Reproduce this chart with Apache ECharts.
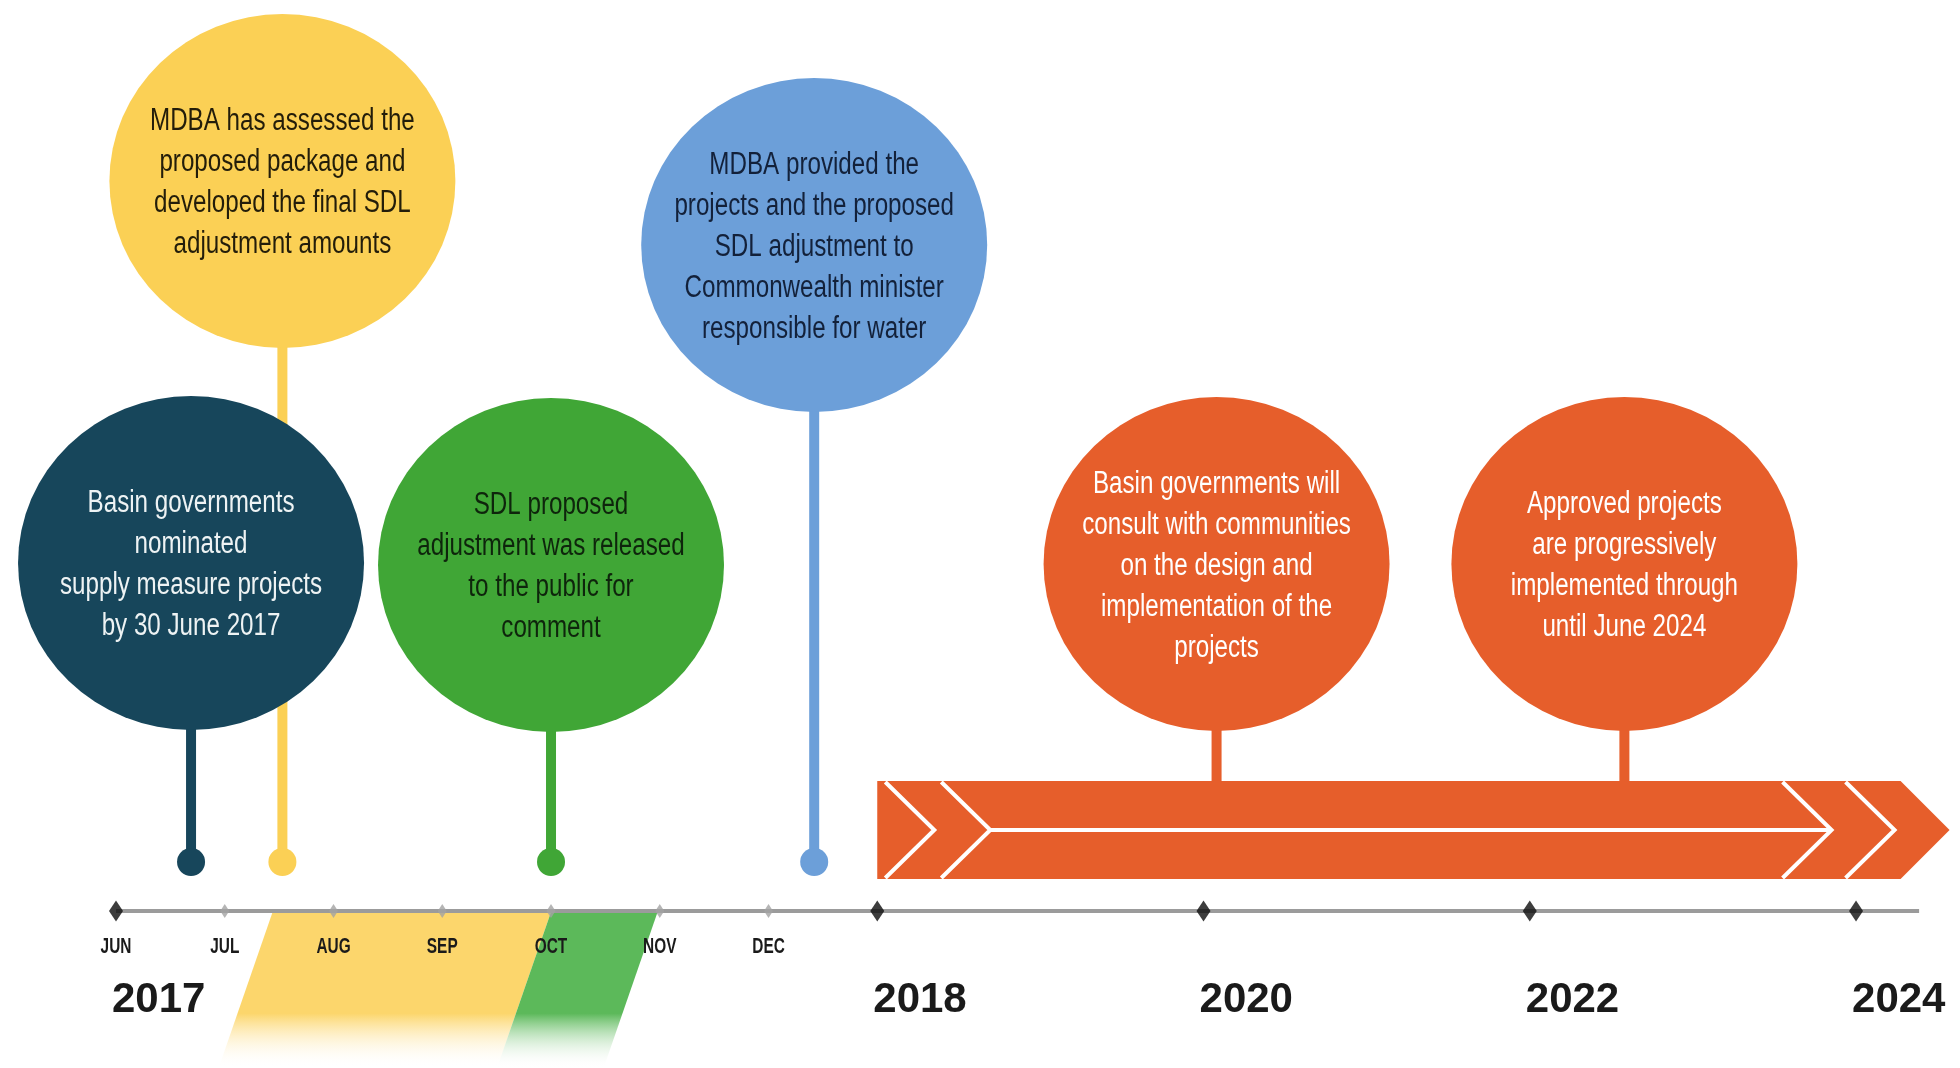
<!DOCTYPE html>
<html><head><meta charset="utf-8">
<script src="https://cdn.jsdelivr.net/npm/echarts@6/dist/echarts.min.js"></script>
<style>html,body{margin:0;padding:0;background:#fff}#c{width:1960px;height:1068px}</style>
</head><body><div id="c"></div>
<script>
// ---- timeline data (x in timeline units: Jun 2017 = 0, one unit per month to Jan 2018 = 7, then 3 units per 2 years) ----
const monthLabels = ['JUN','JUL','AUG','SEP','OCT','NOV','DEC'];
const monthPos = [0,1,2,3,4,5,6];
const yearLabels = ['2017','2018','2020','2022','2024'];
const yearPos = [0,7,10,13,16];
const majorTickPos = [0,7,10,13,16];
const minorTickPos = [1,2,3,4,5,6];
const axisExtent = [0,16.58];
const eventPos = [0.69,1.53,4.0,6.42,10.12,13.87];
const eventText = [
  ['Basin governments','nominated','supply measure projects','by 30 June 2017'],
  ['MDBA has assessed the','proposed package and','developed the final SDL','adjustment amounts'],
  ['SDL proposed','adjustment was released','to the public for','comment'],
  ['MDBA provided the','projects and the proposed','SDL adjustment to','Commonwealth minister','responsible for water'],
  ['Basin governments will','consult with communities','on the design and','implementation of the','projects'],
  ['Approved projects','are progressively','implemented through','until June 2024']
];
const eventColors = ['#17465b','#fbd055','#40a636','#6c9fd9','#e65e2b','#e65e2b'];
const eventTextColors = ['#eef3f4','#231d0a','#0e250c','#13213a','#ffffff','#ffffff'];
const eventHasDot = [true,true,true,true,false,false];
const periodBands = [[1.44,4.0],[4.0,4.98]];
const bandColors = ['#fcd66c','#5cb95a'];
const implementationArrow = [7.0,16.86];

// ---- layout (pixels) ----
const L = {
  axisY: 911, dotY: 862, arrowTop: 781, arrowBot: 879,
  circleY: [563,181,565,245,564,564], rx: 173, ry: 167,
  monthLabelY: 947, yearLabelY: 1000, bandBottom: 1068, bandSlant: 54
};
const SANS = "'Liberation Sans',Arial,sans-serif";

const chart = echarts.init(document.getElementById('c'), null, {renderer:'canvas'});
const px = (api, v) => api.coord([v, 0])[0];
const py = (api, v) => api.coord([0, v])[1];

const option = {
  animation: false,
  backgroundColor: '#ffffff',
  grid: {left:0, right:0, top:0, bottom:0},
  xAxis: {type:'value', min:-1.0667, max:16.956, show:false},
  yAxis: {type:'value', min:0, max:1068, inverse:true, show:false},
  series: [
    // period bands under the axis
    {type:'custom', z:1, data: periodBands.map((b,i)=>[b[0],b[1],i]),
     renderItem:(p,api)=>{
       const x1=px(api,api.value(0)), x2=px(api,api.value(1)), i=api.value(2);
       const t=py(api,L.axisY+1), b=py(api,L.bandBottom), s=L.bandSlant;
       const c=bandColors[i];
       return {type:'polygon', shape:{points:[[x1,t],[x2,t],[x2-s,b],[x1-s,b]]},
         style:{fill:new echarts.graphic.LinearGradient(0,0,0,1,[
           {offset:0,color:c},{offset:0.65,color:c},{offset:1,color:'rgba(255,255,255,0)'}])}};
     }},
    // axis line
    {type:'custom', z:2, data:[[axisExtent[0],axisExtent[1]]],
     renderItem:(p,api)=>({type:'line', shape:{x1:px(api,api.value(0)),y1:py(api,L.axisY),x2:px(api,api.value(1)),y2:py(api,L.axisY)},
       style:{stroke:'#9b9b9b', lineWidth:4}})},
    // minor ticks
    {type:'scatter', z:3, symbol:'diamond', symbolSize:[9,14], itemStyle:{color:'#a3a3a3'},
     data: minorTickPos.map(v=>[v,L.axisY])},
    // major ticks
    {type:'scatter', z:3, symbol:'diamond', symbolSize:[14,21], itemStyle:{color:'#0d0d0d'},
     data: majorTickPos.map(v=>[v,L.axisY])},
    // month labels
    {type:'custom', z:4, data: monthPos.map((v,i)=>[v,i]),
     renderItem:(p,api)=>({type:'text', x:px(api,api.value(0)), y:py(api,L.monthLabelY), scaleX:0.7,
       style:{text:monthLabels[api.value(1)], align:'center', verticalAlign:'middle',
         fontSize:22, fontWeight:'bold', fontFamily:SANS, fill:'#1a1a1a'}})},
    // year labels
    {type:'custom', z:4, data: yearPos.map((v,i)=>[v,i]),
     renderItem:(p,api)=>({type:'text', x:px(api,api.value(0))-4, y:py(api,L.yearLabelY),
       style:{text:yearLabels[api.value(1)], align:'left', verticalAlign:'middle',
         fontSize:42, fontWeight:'bold', fontFamily:SANS, fill:'#1a1a1a'}})},
    // implementation arrow
    {type:'custom', z:5, data:[[implementationArrow[0],implementationArrow[1]]],
     renderItem:(p,api)=>{
       const x0=px(api,api.value(0)), xe=px(api,api.value(1));
       const t=py(api,L.arrowTop), b=py(api,L.arrowBot), m=(t+b)/2, h=(b-t)/2;
       const chev=(xt)=>({type:'polyline', shape:{points:[[xt-h,t+1],[xt,m],[xt-h,b-1]]}, style:{stroke:'#ffffff', lineWidth:4, fill:null}});
       return {type:'group', children:[
         {type:'polygon', shape:{points:[[x0,t],[xe-h,t],[xe,m],[xe-h,b],[x0,b]]}, style:{fill:'#e65e2b'}},
         chev(x0+57), chev(x0+113),
         chev(xe-118), chev(xe-55),
         {type:'line', shape:{x1:x0+113,y1:m,x2:xe-118,y2:m}, style:{stroke:'#ffffff', lineWidth:4}}
       ]};
     }},
    // stems
    {type:'custom', z:6, data: eventPos.map((v,i)=>[v,i]),
     renderItem:(p,api)=>{
       const i=api.value(1), x=px(api,api.value(0));
       const y0=py(api,L.circleY[i]), y1=py(api, eventHasDot[i]?L.dotY:L.arrowTop+2);
       return {type:'rect', shape:{x:x-5,y:y0,width:10,height:y1-y0}, style:{fill:eventColors[i]}};
     }},
    // dots
    {type:'custom', z:7, data: eventPos.map((v,i)=>[v,i]).filter(d=>eventHasDot[d[1]]),
     renderItem:(p,api)=>({type:'circle', shape:{cx:px(api,api.value(0)), cy:py(api,L.dotY), r:14},
       style:{fill:eventColors[api.value(1)]}})},
    // bubbles with text
    {type:'custom', z:8, data: eventPos.map((v,i)=>[v,i]),
     renderItem:(p,api)=>{
       const i=api.value(1), x=px(api,api.value(0)), y=py(api,L.circleY[i]);
       return {type:'group', children:[
         {type:'circle', x:x, y:y, scaleY:L.ry/L.rx, shape:{cx:0, cy:0, r:L.rx}, style:{fill:eventColors[i]}},
         {type:'text', x:x, y:y+2, scaleX:0.78, style:{text:eventText[i].join('\n'), align:'center', verticalAlign:'middle',
           fontSize:31, lineHeight:41, fontFamily:SANS, fill:eventTextColors[i]}}
       ]};
     }}
  ]
};
chart.setOption(option);
</script></body></html>
